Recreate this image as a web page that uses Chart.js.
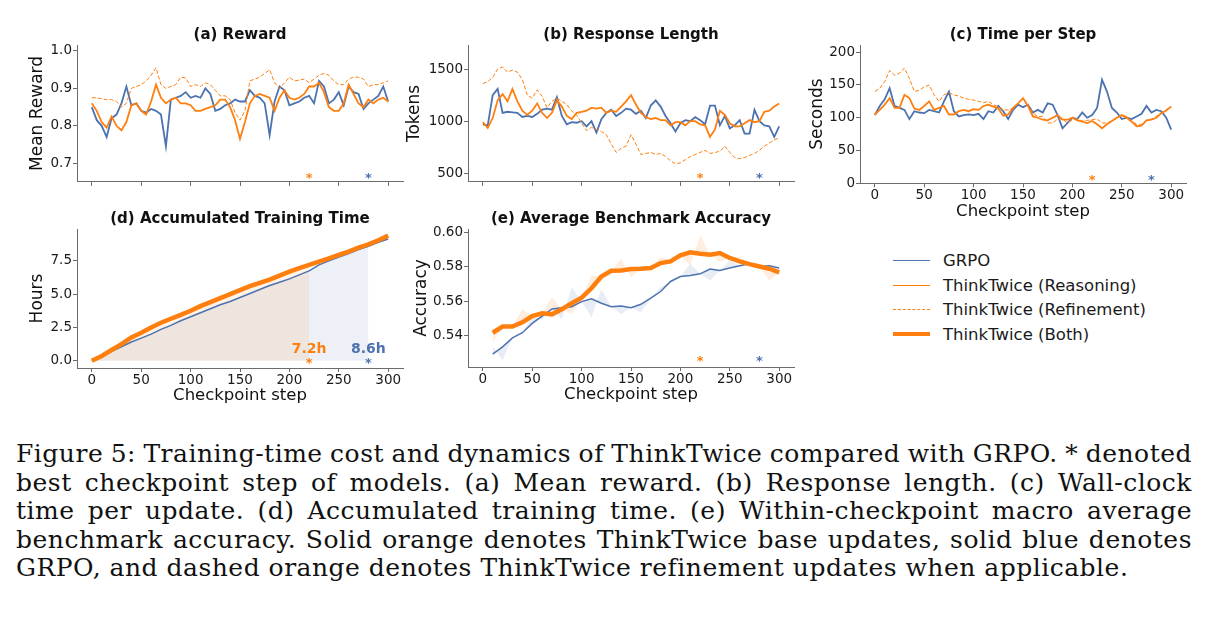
<!DOCTYPE html>
<html>
<head>
<meta charset="utf-8">
<script src="https://cdn.jsdelivr.net/npm/chart.js@4.4.0/dist/chart.umd.min.js"></script>
<style>
  body { margin: 0; width: 1219px; height: 618px; background: #fff; position: relative; overflow: hidden; font-family: "DejaVu Sans", sans-serif; }
  canvas { position: absolute; }
  #legend { position: absolute; left: 893px; top: 248px; font-size: 16.5px; color: #1a1a1a; }
  #legend .row { height: 24.7px; display: flex; align-items: center; white-space: nowrap; }
  #legend .sw { width: 37px; margin-right: 13px; }
  #caption { position: absolute; left: 16px; top: 440px; width: 1176px; font-family: "DejaVu Serif", serif; font-size: 25px; letter-spacing: 0.5px; line-height: 28.5px; color: #111; }
  #caption span { display: inline-block; white-space: nowrap; }
</style>
</head>
<body>
<canvas id="cReward"></canvas>
<canvas id="cLength"></canvas>
<canvas id="cTime"></canvas>
<canvas id="cAccum"></canvas>
<canvas id="cAcc"></canvas>

<div id="legend">
  <div class="row"><div class="sw" style="border-top: 1.8px solid #4c72b0"></div>GRPO</div>
  <div class="row"><div class="sw" style="border-top: 1.8px solid #ff7f0e"></div>ThinkTwice (Reasoning)</div>
  <div class="row"><div class="sw" style="border-top: 1px dashed #ff7f0e"></div>ThinkTwice (Refinement)</div>
  <div class="row"><div class="sw" style="border-top: 4.5px solid #ff7f0e"></div>ThinkTwice (Both)</div>
</div>

<div id="caption">
  <div><span class="j">Figure 5: Training-time cost and dynamics of ThinkTwice compared with GRPO. * denoted</span></div>
  <div><span class="j">best checkpoint step of models. (a) Mean reward. (b) Response length. (c) Wall-clock</span></div>
  <div><span class="j">time per update. (d) Accumulated training time. (e) Within-checkpoint macro average</span></div>
  <div><span class="j">benchmark accuracy. Solid orange denotes ThinkTwice base updates, solid blue denotes</span></div>
  <div><span>GRPO, and dashed orange denotes ThinkTwice refinement updates when applicable.</span></div>
</div>

<script>
const BLUE = "#4c72b0";
const ORANGE = "#ff7f0e";

// checkpoint steps (every 5 for training curves, every 10 for time / eval)
const STEPS = Array.from({ length: 61 }, (_, i) => i * 5);
const TIME_STEPS = Array.from({ length: 31 }, (_, i) => i * 10);
const ACC_STEPS = Array.from({ length: 30 }, (_, i) => (i + 1) * 10);
const X_TICKS = [0, 50, 100, 150, 200, 250, 300];

const BEST_THINK = 220;
const BEST_GRPO = 280;

// (a) mean reward
const REWARD_GRPO = [0.85, 0.815, 0.80, 0.77, 0.82, 0.83, 0.86, 0.905, 0.855, 0.86, 0.84, 0.835, 0.845, 0.84, 0.83, 0.745, 0.87, 0.875, 0.88, 0.89, 0.875, 0.88, 0.875, 0.90, 0.885, 0.84, 0.845, 0.855, 0.86, 0.87, 0.865, 0.865, 0.895, 0.88, 0.875, 0.86, 0.775, 0.865, 0.905, 0.895, 0.855, 0.86, 0.865, 0.875, 0.88, 0.86, 0.92, 0.905, 0.86, 0.87, 0.89, 0.855, 0.905, 0.89, 0.885, 0.845, 0.86, 0.87, 0.88, 0.905, 0.865];
const REWARD_REASON = [0.86, 0.84, 0.81, 0.795, 0.825, 0.80, 0.788, 0.81, 0.855, 0.86, 0.84, 0.83, 0.865, 0.91, 0.875, 0.86, 0.87, 0.875, 0.86, 0.86, 0.855, 0.84, 0.84, 0.845, 0.85, 0.855, 0.87, 0.87, 0.85, 0.815, 0.765, 0.81, 0.86, 0.88, 0.885, 0.88, 0.875, 0.84, 0.875, 0.895, 0.875, 0.87, 0.875, 0.885, 0.905, 0.905, 0.915, 0.89, 0.85, 0.84, 0.84, 0.86, 0.91, 0.885, 0.86, 0.85, 0.87, 0.86, 0.87, 0.875, 0.865];
const REWARD_REFINE = [0.875, 0.875, 0.872, 0.87, 0.87, 0.865, 0.85, 0.86, 0.90, 0.905, 0.91, 0.92, 0.935, 0.955, 0.91, 0.90, 0.905, 0.91, 0.93, 0.928, 0.905, 0.91, 0.905, 0.915, 0.91, 0.895, 0.88, 0.88, 0.87, 0.835, 0.815, 0.84, 0.92, 0.925, 0.93, 0.94, 0.95, 0.915, 0.90, 0.915, 0.93, 0.92, 0.922, 0.925, 0.915, 0.925, 0.935, 0.94, 0.935, 0.92, 0.91, 0.91, 0.925, 0.93, 0.93, 0.925, 0.905, 0.91, 0.91, 0.915, 0.92];
const REWARD_TICKS = [0.7, 0.8, 0.9, 1.0];

// (b) response length (tokens)
const LEN_GRPO = [970, 960, 1250, 1310, 1080, 1090, 1085, 1080, 1040, 1050, 1040, 1070, 1110, 1120, 1110, 1230, 1050, 970, 990, 985, 1000, 950, 1000, 890, 1020, 1080, 1110, 1050, 1080, 1120, 1110, 1070, 1100, 1030, 1150, 1200, 1140, 1050, 980, 900, 980, 1010, 1000, 1040, 1010, 970, 1150, 1150, 960, 1050, 930, 960, 1010, 880, 880, 1110, 1000, 960, 950, 850, 950];
const LEN_REASON = [990, 935, 1030, 1200, 1260, 1190, 1310, 1190, 1100, 1060, 1100, 1170, 1080, 1030, 1080, 1200, 1140, 1050, 1020, 1080, 1090, 1100, 1130, 1120, 1130, 1080, 1100, 1090, 1140, 1190, 1250, 1160, 1080, 1040, 1020, 1030, 1010, 1010, 960, 990, 990, 960, 1000, 1000, 970, 960, 850, 920, 1100, 1060, 980, 950, 950, 980, 1010, 990, 1000, 1090, 1100, 1140, 1170];
const LEN_REFINE = [1360, 1380, 1420, 1500, 1520, 1470, 1490, 1470, 1400, 1250, 1220, 1300, 1240, 1130, 1190, 1220, 1190, 1160, 1100, 1060, 980, 910, 940, 920, 900, 870, 780, 700, 740, 760, 870, 780, 680, 690, 700, 680, 690, 660, 620, 590, 600, 630, 660, 680, 700, 720, 690, 700, 710, 760, 700, 650, 640, 650, 670, 690, 720, 760, 790, 820, 840];
const LEN_TICKS = [500, 1000, 1500];

// (c) seconds per step
const SEC_GRPO = [104, 118, 128, 145, 118, 115, 112, 98, 110, 108, 107, 112, 110, 108, 125, 140, 110, 102, 104, 105, 104, 106, 98, 110, 108, 118, 110, 98, 112, 120, 116, 120, 108, 112, 108, 122, 120, 104, 84, 92, 100, 98, 108, 100, 104, 115, 158, 140, 115, 108, 98, 100, 98, 102, 106, 118, 108, 112, 110, 100, 82];
const SEC_REASON = [105, 112, 120, 130, 115, 115, 135, 130, 114, 112, 118, 125, 112, 115, 118, 105, 105, 110, 112, 110, 113, 112, 118, 120, 117, 114, 103, 105, 115, 122, 130, 118, 102, 100, 97, 96, 100, 104, 97, 97, 100, 96, 94, 92, 95, 90, 84, 90, 95, 100, 104, 100, 94, 87, 88, 96, 97, 100, 107, 111, 117];
const SEC_REFINE = [140, 145, 155, 172, 165, 168, 176, 160, 140, 142, 147, 150, 135, 125, 135, 138, 135, 133, 130, 128, 127, 125, 123, 125, 120, 117, 112, 112, 115, 122, 130, 120, 107, 102, 102, 92, 92, 98, 98, 92, 97, 98, 95, 96, 97, 98, 92, 92, 95, 100, 104, 102, 95, 90, 90, 96, 98, 102, 108, 112, 118];
const SEC_TICKS = [0, 50, 100, 150, 200];

// (d) accumulated hours
const HOURS_THINK = [0, 0.35, 0.8, 1.25, 1.75, 2.1, 2.5, 2.85, 3.15, 3.45, 3.75, 4.1, 4.4, 4.7, 5.0, 5.3, 5.6, 5.85, 6.1, 6.4, 6.7, 6.95, 7.2, 7.45, 7.7, 7.95, 8.2, 8.5, 8.75, 9.05, 9.4];
const HOURS_GRPO = [0, 0.3, 0.7, 1.05, 1.4, 1.7, 2.0, 2.35, 2.65, 3.0, 3.3, 3.6, 3.9, 4.2, 4.45, 4.75, 5.05, 5.35, 5.65, 5.9, 6.15, 6.45, 6.75, 7.2, 7.5, 7.8, 8.05, 8.35, 8.6, 8.9, 9.15];
const HOURS_TICKS = [0, 2.5, 5, 7.5];

// (e) average benchmark accuracy: smoothed curve + raw per-checkpoint value (shaded between)
const ACC_THINK = [0.5414, 0.545, 0.545, 0.5475, 0.5512, 0.5528, 0.5522, 0.5552, 0.5587, 0.562, 0.5675, 0.5744, 0.5778, 0.578, 0.5788, 0.579, 0.5794, 0.5823, 0.5833, 0.5868, 0.5886, 0.5878, 0.5872, 0.5882, 0.5853, 0.5833, 0.5817, 0.5803, 0.579, 0.5768];
const ACC_THINK_RAW = [0.5357, 0.545, 0.545, 0.5553, 0.5512, 0.5528, 0.5622, 0.5552, 0.5524, 0.562, 0.575, 0.5744, 0.5778, 0.5848, 0.574, 0.579, 0.5794, 0.5858, 0.5833, 0.5868, 0.5809, 0.5986, 0.5872, 0.5829, 0.5853, 0.5858, 0.5817, 0.5803, 0.572, 0.5768];
const ACC_GRPO = [0.5288, 0.5331, 0.5384, 0.5414, 0.5469, 0.5512, 0.5554, 0.5561, 0.5567, 0.5597, 0.5613, 0.5587, 0.5567, 0.5571, 0.5561, 0.5581, 0.5617, 0.5656, 0.5715, 0.5744, 0.575, 0.576, 0.5788, 0.578, 0.5794, 0.5807, 0.5819, 0.5803, 0.5807, 0.5794];
const ACC_GRPO_RAW = [0.5335, 0.5252, 0.5384, 0.5414, 0.5507, 0.549, 0.5554, 0.5494, 0.5681, 0.5597, 0.5505, 0.567, 0.5567, 0.5524, 0.5561, 0.5534, 0.5617, 0.5681, 0.5715, 0.5744, 0.5819, 0.576, 0.572, 0.578, 0.5838, 0.5807, 0.5819, 0.5803, 0.5807, 0.5794];
const ACC_TICKS = [0.54, 0.56, 0.58, 0.60];

const FONT = "DejaVu Sans";
const AXIS_GREY = "#6b6b6b";

function pts(xs, ys) {
  return xs.map((x, i) => ({ x, y: ys[i] }));
}

function line(data, color, width, dash) {
  return { data, borderColor: color, borderWidth: width, borderDash: dash || [], pointRadius: 0, tension: 0, fill: false };
}

function band(data, target, color) {
  return { data, borderWidth: 0, pointRadius: 0, tension: 0, fill: { target }, backgroundColor: color };
}

// draw the subplot title centred over the axes
function titlePlugin(text) {
  return {
    id: "axTitle",
    afterDraw(chart) {
      const { ctx, chartArea: a } = chart;
      ctx.save();
      ctx.font = `bold 15px "${FONT}"`;
      ctx.fillStyle = "#111";
      ctx.textAlign = "center";
      ctx.textBaseline = "middle";
      ctx.fillText(text, (a.left + a.right) / 2, a.top - 10);
      ctx.restore();
    }
  };
}

// the "*" best-checkpoint markers (and optional value labels)
function starPlugin(marks) {
  return {
    id: "stars",
    afterDatasetsDraw(chart) {
      const { ctx, chartArea: a, scales } = chart;
      ctx.save();
      ctx.textAlign = "center";
      ctx.textBaseline = "middle";
      marks.forEach(m => {
        const x = scales.x.getPixelForValue(m.step);
        const y = m.y != null ? scales.y.getPixelForValue(m.y) : a.bottom - m.up;
        ctx.fillStyle = m.color;
        ctx.font = `bold 13px "${FONT}"`;
        ctx.fillText("*", x, y + 3);
        if (m.label) {
          ctx.font = `bold 14px "${FONT}"`;
          ctx.fillText(m.label, x, y - 11);
        }
      });
      ctx.restore();
    }
  };
}

function makeChart(id, box, o) {
  const cv = document.getElementById(id);
  cv.width = box.cw;
  cv.height = box.ch;
  cv.style.left = box.cx + "px";
  cv.style.top = box.cy + "px";
  const yW = box.L - box.cx;
  const padTop = box.T - box.cy;
  const padRight = box.cx + box.cw - box.R;
  const xH = box.cy + box.ch - box.B;
  const grid = { display: true, drawOnChartArea: false, drawTicks: true, tickLength: 4, tickColor: AXIS_GREY };
  const border = { display: true, color: AXIS_GREY, width: 1 };
  return new Chart(cv, {
    type: "line",
    data: { datasets: o.datasets },
    options: {
      responsive: false,
      animation: false,
      devicePixelRatio: 1,
      layout: { autoPadding: false, padding: { top: padTop, right: padRight, left: 0, bottom: 0 } },
      plugins: { legend: { display: false }, tooltip: { enabled: false } },
      scales: {
        x: {
          type: "linear", min: -15, max: 315,
          afterBuildTicks: s => { s.ticks = X_TICKS.map(v => ({ value: v })); },
          afterFit: s => { s.height = xH; },
          grid, border,
          ticks: { color: "#1a1a1a", font: { family: FONT, size: 13.5 }, padding: 0, maxRotation: 0, autoSkip: false,
                   callback: o.xLabels ? v => String(v) : () => "" },
          title: { display: !!o.xLabels, text: "Checkpoint step", color: "#111", font: { family: FONT, size: 16.5 }, padding: 0 }
        },
        y: {
          type: "linear", min: o.yMin, max: o.yMax,
          afterBuildTicks: s => { s.ticks = o.yTicks.map(v => ({ value: v })); },
          afterFit: s => { s.width = yW; },
          grid, border,
          ticks: { color: "#1a1a1a", font: { family: FONT, size: 13.5 }, padding: 1, autoSkip: false, callback: o.yFmt },
          title: { display: true, text: o.yTitle, color: "#111", font: { family: FONT, size: 17 }, padding: 0 }
        }
      }
    },
    plugins: [titlePlugin(o.title), starPlugin(o.stars)]
  });
}

const bestStars = up => [
  { step: BEST_THINK, color: ORANGE, up },
  { step: BEST_GRPO, color: BLUE, up }
];

// (a) Reward
makeChart("cReward", { cx: 27, cy: 15, cw: 384, ch: 176, L: 77, R: 403, T: 45, B: 183 }, {
  title: "(a) Reward", yTitle: "Mean Reward", yMin: 0.65, yMax: 1.016, yTicks: REWARD_TICKS,
  yFmt: v => v.toFixed(1), xLabels: false, stars: bestStars(6),
  datasets: [
    line(pts(STEPS, REWARD_REASON), ORANGE, 1.8),
    line(pts(STEPS, REWARD_REFINE), ORANGE, 1, [4, 2]),
    line(pts(STEPS, REWARD_GRPO), BLUE, 1.8)
  ]
});

// (b) Response Length
makeChart("cLength", { cx: 404, cy: 15, cw: 398, ch: 176, L: 468, R: 794, T: 45, B: 183 }, {
  title: "(b) Response Length", yTitle: "Tokens", yMin: 417, yMax: 1731, yTicks: LEN_TICKS,
  yFmt: v => String(v), xLabels: false, stars: bestStars(6),
  datasets: [
    line(pts(STEPS, LEN_REASON), ORANGE, 1.8),
    line(pts(STEPS, LEN_REFINE), ORANGE, 1, [4, 2]),
    line(pts(STEPS, LEN_GRPO), BLUE, 1.8)
  ]
});

// (c) Time per Step
makeChart("cTime", { cx: 807, cy: 15, cw: 406, ch: 207, L: 860, R: 1186, T: 45, B: 183.3 }, {
  title: "(c) Time per Step", yTitle: "Seconds", yMin: 0, yMax: 211, yTicks: SEC_TICKS,
  yFmt: v => String(v), xLabels: true, stars: bestStars(6),
  datasets: [
    line(pts(STEPS, SEC_REASON), ORANGE, 1.8),
    line(pts(STEPS, SEC_REFINE), ORANGE, 1, [4, 2]),
    line(pts(STEPS, SEC_GRPO), BLUE, 1.8)
  ]
});

// (d) Accumulated Training Time
const thinkPts = pts(TIME_STEPS, HOURS_THINK);
const grpoPts = pts(TIME_STEPS, HOURS_GRPO);
const hoursAt = (ys, step) => ys[TIME_STEPS.indexOf(step)];
makeChart("cAccum", { cx: 27, cy: 200, cw: 384, ch: 206, L: 77, R: 403, T: 229, B: 368 }, {
  title: "(d) Accumulated Training Time", yTitle: "Hours", yMin: -0.55, yMax: 9.9, yTicks: HOURS_TICKS,
  yFmt: v => v.toFixed(1), xLabels: true,
  stars: [
    { step: BEST_THINK, color: ORANGE, y: 0, label: hoursAt(HOURS_THINK, BEST_THINK).toFixed(1) + "h" },
    { step: BEST_GRPO, color: BLUE, y: 0, label: hoursAt(HOURS_GRPO, BEST_GRPO).toFixed(1) + "h" }
  ],
  datasets: [
    line(thinkPts, ORANGE, 4.5),
    line(grpoPts, BLUE, 1.5),
    { data: thinkPts.filter(p => p.x <= BEST_THINK), borderWidth: 0, pointRadius: 0, fill: "origin", backgroundColor: "rgba(255,127,14,0.10)" },
    { data: grpoPts.filter(p => p.x <= BEST_GRPO), borderWidth: 0, pointRadius: 0, fill: "origin", backgroundColor: "rgba(76,114,176,0.10)" }
  ]
});

// (e) Average Benchmark Accuracy
makeChart("cAcc", { cx: 411, cy: 200, cw: 391, ch: 205, L: 468, R: 794, T: 229, B: 367 }, {
  title: "(e) Average Benchmark Accuracy", yTitle: "Accuracy", yMin: 0.5213, yMax: 0.6023, yTicks: ACC_TICKS,
  yFmt: v => v.toFixed(2), xLabels: true, stars: bestStars(8),
  datasets: [
    line(pts(ACC_STEPS, ACC_THINK), ORANGE, 4.5),
    line(pts(ACC_STEPS, ACC_GRPO), BLUE, 1.5),
    band(pts(ACC_STEPS, ACC_THINK_RAW), 0, "rgba(255,127,14,0.13)"),
    band(pts(ACC_STEPS, ACC_GRPO_RAW), 1, "rgba(76,114,176,0.13)")
  ]
});

// justify the full caption lines by spreading the word gaps
const CAPTION_W = 1176;
document.querySelectorAll("#caption span.j").forEach(sp => {
  const gaps = (sp.textContent.match(/ /g) || []).length;
  const extra = CAPTION_W - sp.getBoundingClientRect().width;
  if (gaps) sp.style.wordSpacing = (extra / gaps) + "px";
});
</script>
</body>
</html>
